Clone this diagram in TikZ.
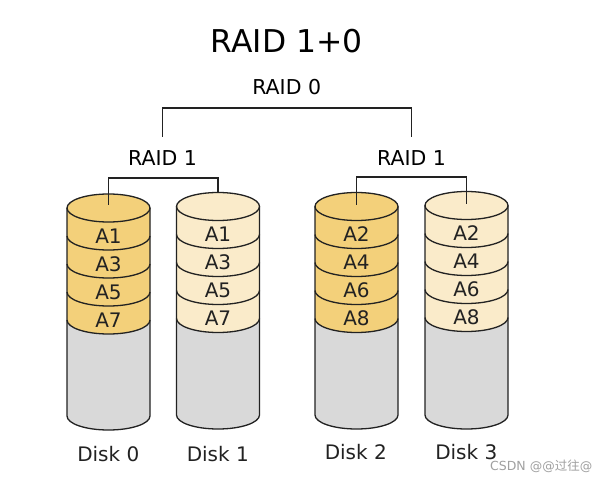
\documentclass[tikz,border=0pt]{standalone}
\usepackage{fontspec}
\setmainfont{DejaVu Sans}
\newfontfamily\cjkfont{Noto Sans CJK SC}
\definecolor{darkband}{RGB}{243,208,122}
\definecolor{lightband}{RGB}{250,235,202}
\definecolor{diskgrey}{RGB}{217,217,217}
\definecolor{outline}{RGB}{34,34,34}
\definecolor{wm}{RGB}{160,160,160}
\tikzset{
  lbl/.style={font=\fontsize{20}{20}\selectfont, inner sep=0pt, anchor=base, text=outline},
  hdr/.style={font=\fontsize{20.5}{20.5}\selectfont, inner sep=0pt, anchor=base, text=black},
  ttl/.style={font=\fontsize{31.4}{31.4}\selectfont, inner sep=0pt, anchor=base, text=black},
  wire/.style={draw=outline, line width=1.1pt},
  diskline/.style={draw=outline, line width=1.3pt}
}
\newcommand\drawdisk[4]{% cx, y of top ellipse centre, y of bottom ellipse centre, colour
  \begin{scope}[shift={(#1,0)}]
    \fill[diskgrey] (-41.5,#2) -- (-41.5,#3) arc[start angle=180,end angle=360,x radius=41.5pt,y radius=14pt] -- (41.5,#2) -- cycle;
    \fill[#4] (-41.5,#2) -- (-41.5,#2-112) arc[start angle=180,end angle=360,x radius=41.5pt,y radius=14pt] -- (41.5,#2) -- cycle;
    \fill[#4] (0,#2) ellipse[x radius=41.5pt,y radius=14pt];
    \draw[diskline] (-41.5,#2) -- (-41.5,#3) arc[start angle=180,end angle=360,x radius=41.5pt,y radius=14pt] -- (41.5,#2);
    \draw[diskline] (0,#2) ellipse[x radius=41.5pt,y radius=14pt];
    \foreach \k in {1,...,4}{
      \draw[diskline] (-41.5,#2-28*\k) arc[start angle=180,end angle=360,x radius=41.5pt,y radius=14pt];
    }
  \end{scope}}
\begin{document}
\begin{tikzpicture}[x=1pt,y=1pt]
\useasboundingbox[fill=white] (0,0) rectangle (605,480);

% disks
\drawdisk{108.5}{272}{64}{darkband}
\drawdisk{218}{273.5}{65}{lightband}
\drawdisk{356.5}{273.5}{65}{darkband}
\drawdisk{466.5}{274.5}{65}{lightband}

% band labels
\foreach \t [count=\k] in {A1,A3,A5,A7}{
  \node[lbl] (d0b\k) at (108.5,272-28*\k-7.3) {\t};
  \node[lbl] (d1b\k) at (218,273.5-28*\k-7.3) {\t};
}
\foreach \t [count=\k] in {A2,A4,A6,A8}{
  \node[lbl] (d2b\k) at (356.5,273.5-28*\k-7.3) {\t};
  \node[lbl] (d3b\k) at (466.5,274.5-28*\k-7.3) {\t};
}

% disk names
\node[lbl] (disk0) at (108.3,19) {Disk 0};
\node[lbl] (disk1) at (217.8,19) {Disk 1};
\node[lbl] (disk2) at (355.8,20.5) {Disk 2};
\node[lbl] (disk3) at (466.3,20.5) {Disk 3};

% headings
\node[ttl] (title) at (286.7,427) {RAID 1+0};
\node[hdr] (raid0) at (286.7,385) {RAID 0};
\node[hdr] (raid1a) at (162.5,314) {RAID 1};
\node[hdr] (raid1b) at (411.5,314) {RAID 1};

% connector points
\coordinate (top0) at (108.5,275);
\coordinate (top1) at (218,287);
\coordinate (top2) at (356.5,275);
\coordinate (top3) at (466.5,276);
\coordinate (h0) at (287,372);
\coordinate (h1) at (163,302);
\coordinate (h2) at (411,303);

\draw[wire] ([yshift=29pt]raid1a.base) |- (h0) -| ([yshift=29pt]raid1b.base);
\draw[wire] (top0) |- (h1) -| (top1);
\draw[wire] (top2) |- (h2) -| (top3);

% watermark
\node[anchor=base west, inner sep=0pt, text=wm, font=\fontsize{12.5}{12.5}\selectfont] (wmark) at (490,9.5) {CSDN @@{\cjkfont 过往}@};
\end{tikzpicture}
\end{document}
